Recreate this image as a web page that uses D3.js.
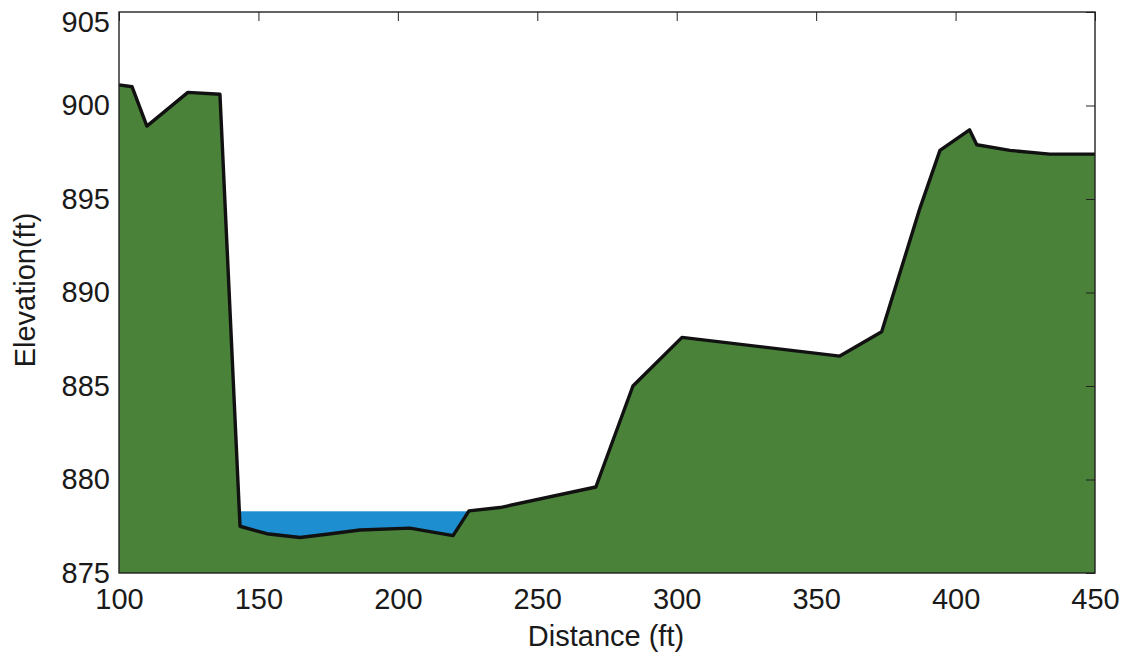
<!DOCTYPE html>
<html>
<head>
<meta charset="utf-8">
<script src="https://cdn.jsdelivr.net/npm/d3@7"></script>
<style>
  body { margin: 0; background: #fff; }
  text { font-family: "Liberation Sans", Arial, sans-serif; fill: #1a1a1a; }
</style>
</head>
<body>
<div id="main"></div>
<script>
// cross-section survey, distance (ft) vs ground elevation (ft)
const distance = [100, 104.7, 110, 124.7, 136.2, 143.4, 153, 164.9, 176, 186.4, 204.3, 219.8, 225.5, 236.6,
  271, 284.3, 301.9, 358.5, 373.5, 387.2, 394.4, 405, 407.6, 419.5, 433.8, 450];
const elevation = [901.1, 901.0, 898.9, 900.7, 900.6, 877.5, 877.1, 876.9, 877.1, 877.3, 877.4, 877.0, 878.32, 878.5,
  879.6, 885.0, 887.6, 886.6, 887.9, 894.5, 897.6, 898.7, 897.9, 897.6, 897.4, 897.4];
const waterLevel = 878.3;

const xTicks = [100, 150, 200, 250, 300, 350, 400, 450];
const yTicks = [875, 880, 885, 890, 895, 900, 905];

const W = 1124, H = 656;
const margin = { left: 119, right: W - 1095, top: 12, bottom: H - 573 };
const GROUND = "#4a8239";
const WATER = "#1d8fd0";

const points = distance.map((d, i) => ({ x: d, y: elevation[i] }));

const svg = d3.select("#main").append("svg").attr("width", W).attr("height", H);

const x = d3.scaleLinear().domain([100, 450]).range([margin.left, W - margin.right]);
const y = d3.scaleLinear().domain([875, 905]).range([H - margin.bottom, margin.top]);

// find where the ground crosses the water surface (left and right bank)
function crossings(level) {
  const out = [];
  for (let i = 1; i < points.length; i++) {
    const a = points[i - 1], b = points[i];
    if ((a.y - level) * (b.y - level) < 0) {
      const t = (level - a.y) / (b.y - a.y);
      out.push(a.x + t * (b.x - a.x));
    }
  }
  return out;
}
const banks = crossings(waterLevel);

// water body: level down to the bed, ground drawn over it
svg.append("rect")
  .attr("x", x(banks[0]))
  .attr("width", x(banks[banks.length - 1]) - x(banks[0]))
  .attr("y", y(waterLevel))
  .attr("height", y(875) - y(waterLevel))
  .attr("fill", WATER);

const area = d3.area().x((d) => x(d.x)).y0(y(875)).y1((d) => y(d.y));
svg.append("path").datum(points).attr("d", area).attr("fill", GROUND);

const line = d3.line().x((d) => x(d.x)).y((d) => y(d.y));
svg.append("path").datum(points).attr("d", line)
  .attr("fill", "none").attr("stroke", "#111").attr("stroke-width", 3.4)
  .attr("stroke-linejoin", "round");

// box with inward ticks on top and right
svg.append("rect")
  .attr("x", margin.left).attr("y", margin.top)
  .attr("width", W - margin.left - margin.right).attr("height", H - margin.top - margin.bottom)
  .attr("fill", "none").attr("stroke", "#222").attr("stroke-width", 1.4);

svg.append("g")
  .attr("transform", `translate(0,${margin.top})`)
  .call(d3.axisTop(x).tickValues(xTicks).tickSize(-9).tickFormat(""))
  .call((g) => g.select(".domain").remove())
  .selectAll("line").attr("stroke", "#222");

svg.append("g")
  .attr("transform", `translate(${W - margin.right},0)`)
  .call(d3.axisRight(y).tickValues(yTicks).tickSize(-9).tickFormat(""))
  .call((g) => g.select(".domain").remove())
  .selectAll("line").attr("stroke", "#222");

// tick labels
const xAxis = svg.append("g")
  .attr("transform", `translate(0,${H - margin.bottom})`)
  .call(d3.axisBottom(x).tickValues(xTicks).tickSize(0).tickPadding(15).tickFormat(d3.format("d")));
xAxis.select(".domain").remove();
xAxis.selectAll("text").attr("font-size", 29).attr("fill", "#1a1a1a")
  .attr("font-family", "Liberation Sans, Arial, sans-serif");

const yAxis = svg.append("g")
  .attr("transform", `translate(${margin.left},0)`)
  .call(d3.axisLeft(y).tickValues(yTicks).tickSize(0).tickPadding(9).tickFormat(d3.format("d")));
yAxis.select(".domain").remove();
yAxis.selectAll("text").attr("font-size", 29).attr("fill", "#1a1a1a")
  .attr("font-family", "Liberation Sans, Arial, sans-serif");
// top label sits a little low in the original so it isn't clipped
yAxis.selectAll(".tick").filter((d) => d === 905).select("text").attr("y", 10);

// axis titles
svg.append("text")
  .attr("x", 606).attr("y", 646)
  .attr("text-anchor", "middle").attr("font-size", 29)
  .text("Distance (ft)");

svg.append("text")
  .attr("transform", "translate(35,290) rotate(-90)")
  .attr("text-anchor", "middle").attr("font-size", 29)
  .text("Elevation(ft)");
</script>
</body>
</html>
